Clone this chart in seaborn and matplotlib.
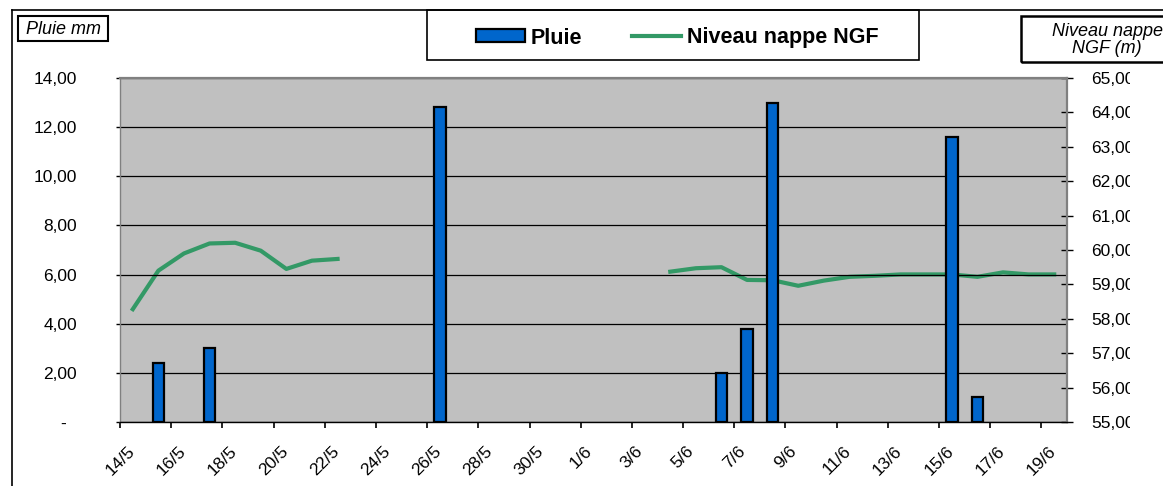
import numpy as np
import pandas as pd
import matplotlib
matplotlib.use("Agg")
import matplotlib.pyplot as plt
from matplotlib.patches import Rectangle, Patch
from matplotlib.lines import Line2D
from matplotlib.transforms import Bbox, TransformedBbox
import seaborn as sns

# ---- data ----
start_date = "14/5"
n_days = 37

rain_dates = ["15/5", "17/5", "26/5", "6/6", "7/6", "8/6", "15/6", "16/6"]
rain_mm = [2.4, 3.0, 12.8, 2.0, 3.8, 13.0, 11.6, 1.0]

level_dates_a = ["14/5", "15/5", "16/5", "17/5", "18/5", "19/5", "20/5", "21/5", "22/5"]
level_a = [58.28, 59.40, 59.90, 60.19, 60.21, 59.98, 59.45, 59.69, 59.74]

level_dates_b = ["4/6", "5/6", "6/6", "7/6", "8/6", "9/6", "10/6", "11/6",
                 "12/6", "13/6", "14/6", "15/6", "16/6", "17/6", "18/6", "19/6"]
level_b = [59.37, 59.47, 59.50, 59.13, 59.12, 58.96, 59.11, 59.22,
           59.25, 59.29, 59.29, 59.29, 59.22, 59.35, 59.29, 59.29]

x_tick_labels = ["14/5", "16/5", "18/5", "20/5", "22/5", "24/5", "26/5", "28/5",
                 "30/5", "1/6", "3/6", "5/6", "7/6", "9/6", "11/6", "13/6",
                 "15/6", "17/6", "19/6"]
rain_ticks = [0, 2, 4, 6, 8, 10, 12, 14]
rain_tick_labels = ["-  ", "2,00", "4,00", "6,00", "8,00", "10,00", "12,00", "14,00"]
level_ticks = [55, 56, 57, 58, 59, 60, 61, 62, 63, 64, 65]
level_tick_labels = ["55,00", "56,00", "57,00", "58,00", "59,00", "60,00",
                     "61,00", "62,00", "63,00", "64,00", "65,00"]

BAR_BLUE = "#0066CC"
LINE_GREEN = "#339966"
PLOT_GRAY = "#C0C0C0"


def day_offset(dates):
    t0 = pd.to_datetime(start_date, format="%d/%m")
    return np.array([(pd.to_datetime(d, format="%d/%m") - t0).days for d in dates])


rain_df = pd.DataFrame({"x": day_offset(rain_dates) + 0.5, "pluie": rain_mm})
level_df = pd.concat([
    pd.DataFrame({"x": day_offset(level_dates_a) + 0.5, "niveau": level_a, "seg": 0}),
    pd.DataFrame({"x": day_offset(level_dates_b) + 0.5, "niveau": level_b, "seg": 1}),
])

plt.rcParams['font.family'] = ['Liberation Sans', 'DejaVu Sans']

W, H = 1163, 486
fig = plt.figure(figsize=(W / 100, H / 100), dpi=100)
ax = fig.add_axes([120 / W, 1 - 422 / H, (1067 - 120) / W, (422 - 78) / H])
ax2 = ax.twinx()

# bars above the line: rain axes on top with a transparent patch
ax.set_zorder(2)
ax2.set_zorder(1)
ax.patch.set_visible(False)
ax2.patch.set_visible(True)
ax2.patch.set_facecolor(PLOT_GRAY)

sns.lineplot(data=level_df, x="x", y="niveau", units="seg", estimator=None,
             color=LINE_GREEN, lw=3, ax=ax2, legend=False)
sns.barplot(data=rain_df, x="x", y="pluie", native_scale=True, width=0.45,
            color=BAR_BLUE, saturation=1, edgecolor="black", linewidth=1.6,
            errorbar=None, ax=ax)

ax.set_xlim(0, n_days)
ax.set_ylim(0, 14)
ax2.set_ylim(55, 65)
ax.set_xlabel("")
ax.set_ylabel("")
ax2.set_xlabel("")
ax2.set_ylabel("")

ax.set_xticks(day_offset(x_tick_labels))
ax.set_xticklabels(x_tick_labels, rotation=45, ha="center", va="top", fontsize=12.5)
ax.set_yticks(rain_ticks)
ax.set_yticklabels(rain_tick_labels, fontsize=12.5)
ax2.set_yticks(level_ticks)
ax2.set_yticklabels(level_tick_labels, fontsize=12.5)

ax.yaxis.grid(True, color="black", lw=0.9)
ax.set_axisbelow(True)

ax.tick_params(axis="x", direction="out", length=4.5, width=1.2, pad=11, colors="black")
ax.tick_params(axis="y", direction="out", length=3, width=1, pad=28)
ax2.tick_params(axis="y", direction="inout", length=9, width=1, pad=13)

for s in ["top", "right", "left"]:
    ax.spines[s].set_color("#808080")
    ax.spines[s].set_linewidth(1.6)
ax.spines["left"].set_linewidth(1.0)
ax.spines["bottom"].set_color("black")
ax.spines["bottom"].set_linewidth(1.0)
for s in ax2.spines.values():
    s.set_visible(False)

# right labels are cut off like in the original ("65,0C")
clip = TransformedBbox(Bbox.from_extents(0, 0, 1130 / W, 1), fig.transFigure)
for lbl in ax2.get_yticklabels():
    lbl.set_clip_on(True)
    lbl.set_clip_box(clip)


def fx(x, y):
    return x / W, 1 - y / H


# outer chart frame
fig.add_artist(Line2D([12 / W, 1], [1 - 10 / H, 1 - 10 / H], color="black", lw=1.2,
                      transform=fig.transFigure))
fig.add_artist(Line2D([12 / W, 12 / W], [0, 1 - 10 / H], color="black", lw=1.2,
                      transform=fig.transFigure))

# axis title boxes
fig.add_artist(Rectangle(fx(18, 41), 90 / W, 25 / H, transform=fig.transFigure,
                         fill=False, edgecolor="black", lw=1.5))
t = fig.text(*fx(26, 29), "Pluie mm", style="italic", fontsize=13, ha="left", va="center")
t.set_clip_on(True)
t.set_clip_box(TransformedBbox(Bbox.from_extents(18 / W, 0, 107 / W, 1), fig.transFigure))

fig.add_artist(Rectangle(fx(1021, 62), 200 / W, 46 / H, transform=fig.transFigure,
                         fill=False, edgecolor="black", lw=1.8))
fig.text(*fx(1107, 40), "Niveau nappe\nNGF (m)", style="italic", fontsize=13,
         ha="center", va="center", linespacing=0.95)

# legend box
fig.add_artist(Rectangle(fx(427, 60), (919 - 427) / W, 50 / H, transform=fig.transFigure,
                         fill=False, edgecolor="black", lw=1.2))
handles = [Patch(facecolor=BAR_BLUE, edgecolor="black", lw=1.6),
           Line2D([], [], color=LINE_GREEN, lw=3)]
fig.legend(handles, ["Pluie", "Niveau nappe NGF"], loc="center", bbox_to_anchor=fx(677, 38),
           ncol=2, frameon=False, prop={"weight": "bold", "size": 15.5},
           handlelength=2.3, handletextpad=0.25, columnspacing=2.3, handleheight=0.55)

fig.savefig("out.png", dpi=100)
